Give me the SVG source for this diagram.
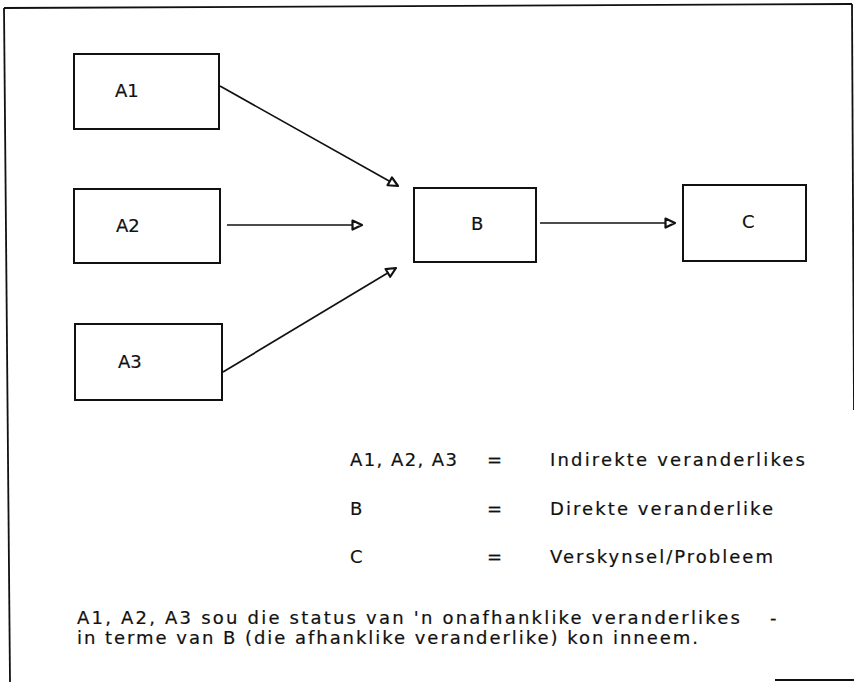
<svg xmlns="http://www.w3.org/2000/svg" width="854" height="682" viewBox="0 0 854 682">
<style>
.box{fill:#fff;stroke:#111;stroke-width:2}
.lbl{font-family:"DejaVu Sans","Liberation Sans",Arial,sans-serif;font-size:18px;fill:#111;stroke:#111;stroke-width:0.2}
.con{stroke:#111;stroke-width:1.7;fill:none;marker-end:url(#arr)}
.frame{stroke:#111;stroke-width:1.8;fill:none}
</style>
<defs>
<marker id="arr" viewBox="0 0 12 12" refX="11" refY="6" markerWidth="12" markerHeight="12" markerUnits="userSpaceOnUse" orient="auto">
<path d="M1.5,1.5 L11,6 L1.5,10.5 Z" fill="#fff" stroke="#111" stroke-width="2.2" stroke-linejoin="round"/>
</marker>
</defs>
<rect width="854" height="682" fill="#fff"/>
<g id="frame">
<line class="frame" x1="4" y1="8" x2="852" y2="4"/>
<line class="frame" x1="4" y1="8" x2="10" y2="682"/>
<line class="frame" x1="852" y1="4" x2="854" y2="410"/>
<line class="frame" x1="775" y1="680" x2="854" y2="680"/>
</g>
<g id="A1"><rect class="box" x="74" y="54" width="145" height="75"/><text class="lbl" x="115" y="97">A1</text></g>
<g id="A2"><rect class="box" x="74" y="189" width="146" height="74"/><text class="lbl" x="116" y="232">A2</text></g>
<g id="A3"><rect class="box" x="75" y="324" width="147" height="76"/><text class="lbl" x="118" y="368">A3</text></g>
<g id="B"><rect class="box" x="414" y="188" width="122" height="74"/><text class="lbl" x="471" y="230">B</text></g>
<g id="C"><rect class="box" x="683" y="185" width="123" height="76"/><text class="lbl" x="742" y="228">C</text></g>
<g id="connectors">
<line class="con" x1="220" y1="86" x2="398" y2="186"/>
<line class="con" x1="227" y1="225" x2="362" y2="225"/>
<line class="con" x1="223" y1="372" x2="396" y2="268"/>
<line class="con" x1="540" y1="223" x2="675" y2="223"/>
</g>
<g id="legend" class="lbl">
<text x="350" y="466" textLength="107" lengthAdjust="spacing">A1, A2, A3</text>
<text x="487" y="466">=</text>
<text x="550" y="466" textLength="255" lengthAdjust="spacing">Indirekte veranderlikes</text>
<text x="350" y="515">B</text>
<text x="487" y="515">=</text>
<text x="550" y="515" textLength="223" lengthAdjust="spacing">Direkte veranderlike</text>
<text x="350" y="563">C</text>
<text x="487" y="563">=</text>
<text x="550" y="563" textLength="223" lengthAdjust="spacing">Verskynsel/Probleem</text>
</g>
<g id="note" class="lbl">
<text x="77" y="624" textLength="663" lengthAdjust="spacing">A1, A2, A3 sou die status van 'n onafhanklike veranderlikes</text>
<text x="770" y="624">-</text>
<text x="77" y="644" textLength="621" lengthAdjust="spacing">in terme van B (die afhanklike veranderlike) kon inneem.</text>
</g>
</svg>
